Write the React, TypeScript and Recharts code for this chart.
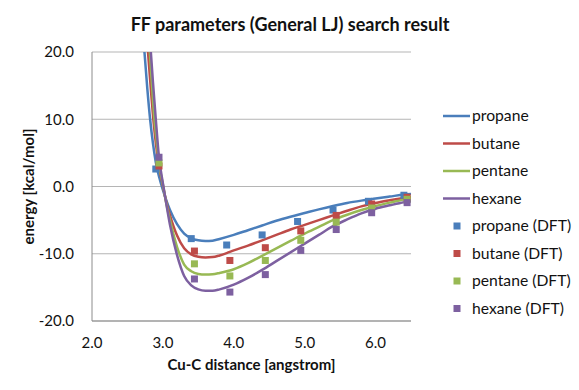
import React from 'react';
import { ComposedChart, Line, Scatter, XAxis, YAxis, CartesianGrid } from 'recharts';

const chartTitle = 'FF parameters (General LJ) search result';
const xTitle = 'Cu-C distance [angstrom]';
const yTitle = 'energy [kcal/mol]';
const xTicks = [2, 3, 4, 5, 6];
const yTicks = [-20, -10, 0, 10, 20];

// Fitted FF curves
const propaneCurveX = [2.70, 2.74, 2.78, 2.82, 2.86, 2.90, 2.95, 3.00, 3.05, 3.10, 3.20, 3.30, 3.40, 3.50, 3.60, 3.70, 3.80, 4.00, 4.20, 4.40, 4.60, 4.80, 5.00, 5.20, 5.40, 5.60, 5.80, 6.00, 6.20, 6.40, 6.50];
const propaneCurveY = [26, 20, 14.6, 10, 6.4, 3.6, 1.3, -0.5, -2.1, -3.5, -5.6, -7.0, -7.7, -8.0, -8.1, -8.05, -7.8, -7.2, -6.5, -5.8, -5.1, -4.5, -3.95, -3.4, -2.9, -2.45, -2.1, -1.8, -1.5, -1.2, -1.1];

const butaneCurveX = [2.74, 2.79, 2.83, 2.865, 2.90, 2.945, 3.00, 3.05, 3.10, 3.20, 3.30, 3.40, 3.50, 3.60, 3.70, 3.80, 3.90, 4.00, 4.20, 4.40, 4.60, 4.80, 5.00, 5.20, 5.40, 5.60, 5.80, 6.00, 6.20, 6.40, 6.50];
const butaneCurveY = [27, 20, 14.5, 10, 6.5, 3.05, 0.1, -2.4, -4.3, -7.3, -9.2, -10.1, -10.45, -10.55, -10.5, -10.25, -9.9, -9.5, -8.8, -8.0, -7.2, -6.4, -5.7, -5.0, -4.3, -3.6, -2.95, -2.45, -2.05, -1.7, -1.55];

const pentaneCurveX = [2.77, 2.815, 2.85, 2.88, 2.91, 2.945, 3.00, 3.05, 3.10, 3.20, 3.30, 3.40, 3.50, 3.60, 3.70, 3.80, 4.00, 4.20, 4.40, 4.60, 4.80, 5.00, 5.20, 5.40, 5.60, 5.80, 6.00, 6.20, 6.40, 6.50];
const pentaneCurveY = [27, 20, 14.5, 10, 7.0, 3.5, 0.3, -2.6, -5.0, -9.0, -11.6, -12.6, -13.0, -13.1, -13.05, -12.85, -12.3, -11.4, -10.3, -9.2, -8.1, -7.0, -6.0, -5.0, -4.2, -3.5, -2.9, -2.4, -1.95, -1.8];

const hexaneCurveX = [2.78, 2.83, 2.86, 2.90, 2.945, 3.00, 3.05, 3.10, 3.20, 3.30, 3.40, 3.50, 3.60, 3.70, 3.80, 4.00, 4.20, 4.40, 4.60, 4.80, 5.00, 5.20, 5.40, 5.60, 5.80, 6.00, 6.20, 6.40, 6.50];
const hexaneCurveY = [28, 20, 15.5, 10, 4.35, 0.5, -2.7, -5.7, -10.2, -13.3, -14.7, -15.3, -15.5, -15.5, -15.3, -14.6, -13.6, -12.4, -11.1, -9.8, -8.5, -7.2, -5.9, -4.9, -4.0, -3.3, -2.8, -2.35, -2.2];

// DFT reference points
const propaneDftX = [2.90, 3.40, 3.90, 4.40, 4.90, 5.40, 5.90, 6.40];
const propaneDftY = [2.6, -7.75, -8.7, -7.2, -5.2, -3.5, -2.2, -1.3];
const butaneDftX = [2.945, 3.445, 3.945, 4.445, 4.945, 5.445, 5.945, 6.445];
const butaneDftY = [3.05, -9.6, -11.0, -9.1, -6.6, -4.3, -2.6, -1.6];
const pentaneDftX = [2.945, 3.445, 3.945, 4.445, 4.945, 5.445, 5.945, 6.445];
const pentaneDftY = [3.5, -11.5, -13.3, -11.0, -8.0, -5.3, -3.2, -1.9];
const hexaneDftX = [2.945, 3.445, 3.945, 4.445, 4.945, 5.445, 5.945, 6.445];
const hexaneDftY = [4.35, -13.75, -15.7, -13.1, -9.5, -6.4, -3.9, -2.4];

const seriesNames = ['propane', 'butane', 'pentane', 'hexane'];
const seriesColors = ['#4A7EBB', '#BE4B48', '#98B954', '#7D60A0'];

const zip = (xs: number[], ys: number[]) => xs.map((x, i) => ({ x, y: ys[i] }));

const curves = [
  zip(propaneCurveX, propaneCurveY),
  zip(butaneCurveX, butaneCurveY),
  zip(pentaneCurveX, pentaneCurveY),
  zip(hexaneCurveX, hexaneCurveY),
];
const dfts = [
  zip(propaneDftX, propaneDftY),
  zip(butaneDftX, butaneDftY),
  zip(pentaneDftX, pentaneDftY),
  zip(hexaneDftX, hexaneDftY),
];

const FONT = "Lato, 'Open Sans', sans-serif";
const TEXT = '#111';

const SquareDot = (props: any) => {
  const { cx, cy, fill } = props;
  if (cx == null || cy == null) return null;
  return <rect x={cx - 3.5} y={cy - 3.5} width={7} height={7} fill={fill} />;
};

const LegendBox = () => {
  const rowH = 27.5;
  const items = [
    ...seriesNames.map((n, i) => ({ name: n, color: seriesColors[i], kind: 'line' })),
    ...seriesNames.map((n, i) => ({ name: `${n} (DFT)`, color: seriesColors[i], kind: 'square' })),
  ];
  return (
    <svg width={139} height={230} style={{ position: 'absolute', left: 440, top: 102, display: 'block' }}>
      {items.map((it, i) => {
        const cy = 14 + i * rowH;
        return (
          <g key={it.name}>
            {it.kind === 'line' ? (
              <line x1={3} x2={30} y1={cy} y2={cy} stroke={it.color} strokeWidth={2.5} />
            ) : (
              <rect x={13.5} y={cy - 3.5} width={7} height={7} fill={it.color} />
            )}
            <text x={32} y={cy} dy="0.35em" fontFamily={FONT} fontSize={15.7} fill={TEXT}>
              {it.name}
            </text>
          </g>
        );
      })}
    </svg>
  );
};

export default function App() {
  return (
    <div style={{ position: 'absolute', left: 0, top: 0, width: 579, height: 390, background: '#fff' }}>
      <ComposedChart
        width={579}
        height={390}
        margin={{ top: 52, right: 168, bottom: 0, left: 0 }}
      >
        <text x={290} y={24} textAnchor="middle" dominantBaseline="central" fontFamily={FONT} fontWeight="bold" fontSize={18} fill={TEXT}>
          {chartTitle}
        </text>
        <CartesianGrid horizontal vertical={false} stroke="#b5b5b5" strokeWidth={1} />
        <XAxis
          type="number"
          dataKey="x"
          domain={[2, 6.5]}
          ticks={xTicks}
          allowDataOverflow
          tickFormatter={(v: number) => v.toFixed(1)}
          height={69}
          tickLine={false}
          tickSize={8}
          tickMargin={8}
          axisLine={{ stroke: '#8c8c8c' }}
          tick={{ fontFamily: FONT, fontSize: 15, fill: TEXT }}
          label={{
            content: (p: any) => {
              const vb = p.viewBox;
              return (
                <text x={vb.x + vb.width / 2} y={364} textAnchor="middle" dominantBaseline="central" fontFamily={FONT} fontWeight="bold" fontSize={15} fill={TEXT}>
                  {xTitle}
                </text>
              );
            },
          }}
        />
        <YAxis
          type="number"
          dataKey="y"
          domain={[-20, 20]}
          ticks={yTicks}
          allowDataOverflow
          tickFormatter={(v: number) => v.toFixed(1)}
          width={92}
          tickLine={false}
          tickSize={8}
          tickMargin={10}
          axisLine={{ stroke: '#8c8c8c' }}
          tick={{ fontFamily: FONT, fontSize: 15, fill: TEXT }}
          label={{
            content: (p: any) => {
              const vb = p.viewBox;
              const cy = vb.y + vb.height / 2;
              return (
                <text x={28} y={cy} transform={`rotate(-90, 28, ${cy})`} textAnchor="middle" dominantBaseline="central" fontFamily={FONT} fontWeight="bold" fontSize={15} fill={TEXT}>
                  {yTitle}
                </text>
              );
            },
          }}
        />
        {curves.map((d, i) => (
          <Line
            key={seriesNames[i]}
            data={d}
            dataKey="y"
            name={seriesNames[i]}
            type="monotone"
            stroke={seriesColors[i]}
            strokeWidth={2.5}
            dot={false}
            activeDot={false}
            isAnimationActive={false}
          />
        ))}
        {dfts.map((d, i) => (
          <Scatter
            key={`${seriesNames[i]}-dft`}
            data={d}
            dataKey="y"
            name={`${seriesNames[i]} (DFT)`}
            fill={seriesColors[i]}
            shape={<SquareDot />}
            isAnimationActive={false}
          />
        ))}
      </ComposedChart>
      <LegendBox />
    </div>
  );
}
